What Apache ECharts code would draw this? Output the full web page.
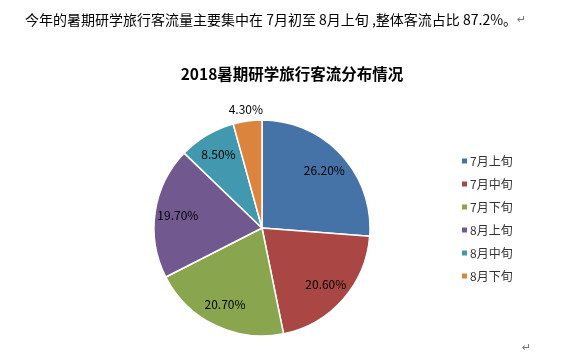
<!DOCTYPE html>
<html>
<head>
<meta charset="utf-8">
<script src="https://cdn.jsdelivr.net/npm/echarts@6/dist/echarts.min.js"></script>
<style>
html,body{margin:0;padding:0;background:#fff;}
#chart{width:580px;height:361px;}
</style>
</head>
<body>
<div id="chart"></div>
<script>
const categories = ['7月上旬', '7月中旬', '7月下旬', '8月上旬', '8月中旬', '8月下旬'];
const values = [26.2, 20.6, 20.7, 19.7, 8.5, 4.3];
const colors = ['#4572A7', '#AA4643', '#89A54E', '#71588F', '#4198AF', '#DB843D'];
const chartTitle = '2018暑期研学旅行客流分布情况';
const paragraph = '今年的暑期研学旅行客流量主要集中在 7月初至 8月上旬 ,整体客流占比 87.2%。';

const font = '"Noto Sans CJK SC", "Noto Sans", sans-serif';
const center = [262, 228];
const R = 108;

const pieData = categories.map((c, i) => ({ name: c, value: values[i], itemStyle: { color: colors[i] } }));
const labelFmt = p => p.value.toFixed(2) + '%';

const chart = echarts.init(document.getElementById('chart'), null, { renderer: 'canvas' });
chart.setOption({
  backgroundColor: '#fff',
  animation: false,
  title: [
    {
      text: '{t|' + paragraph + '}{m|↵}',
      left: 20, top: 8,
      textStyle: {
        fontWeight: 'normal',
        rich: {
          t: { fontFamily: font, fontSize: 14, fontWeight: 'normal', color: '#000' },
          m: { fontFamily: 'DejaVu Sans', fontSize: 11, fontWeight: 'normal', color: '#777' }
        }
      }
    },
    {
      text: chartTitle,
      left: 287, top: 61, textAlign: 'center',
      textStyle: { fontFamily: font, fontSize: 15.5, fontWeight: 'bold', color: '#000' }
    },
    {
      text: '↵',
      left: 517, top: 338,
      textStyle: { fontFamily: 'DejaVu Sans', fontSize: 11, fontWeight: 'normal', color: '#777' }
    }
  ],
  legend: {
    orient: 'vertical',
    left: 455, top: 150,
    itemWidth: 7, itemHeight: 7,
    itemGap: 11,
    icon: 'rect',
    data: categories,
    textStyle: { fontFamily: font, fontSize: 12, color: '#333', padding: [0, 0, 0, -3] }
  },
  series: [
    {
      type: 'pie',
      center: center,
      radius: [0, R],
      startAngle: 90,
      clockwise: true,
      data: pieData,
      label: { show: false },
      labelLine: { show: false },
      itemStyle: { borderColor: '#fff', borderWidth: 1.5 },
      emphasis: { disabled: true }
    },
    {
      type: 'pie',
      center: center,
      radius: [R * 0.52, R],
      startAngle: 90,
      clockwise: true,
      silent: true,
      legendHoverLink: false,
      data: pieData.map((d, i) => ({
        name: d.name, value: d.value,
        itemStyle: { color: 'rgba(0,0,0,0)' },
        label: { show: i < values.length - 1 }
      })),
      itemStyle: { color: 'rgba(0,0,0,0)', borderWidth: 0 },
      label: { show: true, position: 'inside', formatter: labelFmt, fontFamily: font, fontSize: 12, color: '#000' },
      labelLine: { show: false },
      emphasis: { disabled: true }
    },
    {
      type: 'pie',
      center: center,
      radius: [R * 0.96, R * 1.2],
      startAngle: 90,
      clockwise: true,
      silent: true,
      legendHoverLink: false,
      data: pieData.map((d, i) => ({
        name: d.name, value: d.value,
        itemStyle: { color: 'rgba(0,0,0,0)' },
        label: { show: i === values.length - 1 }
      })),
      itemStyle: { color: 'rgba(0,0,0,0)', borderWidth: 0 },
      label: { show: true, position: 'inside', formatter: labelFmt, fontFamily: font, fontSize: 12, color: '#000' },
      labelLine: { show: false },
      emphasis: { disabled: true }
    }
  ]
});
</script>
</body>
</html>
